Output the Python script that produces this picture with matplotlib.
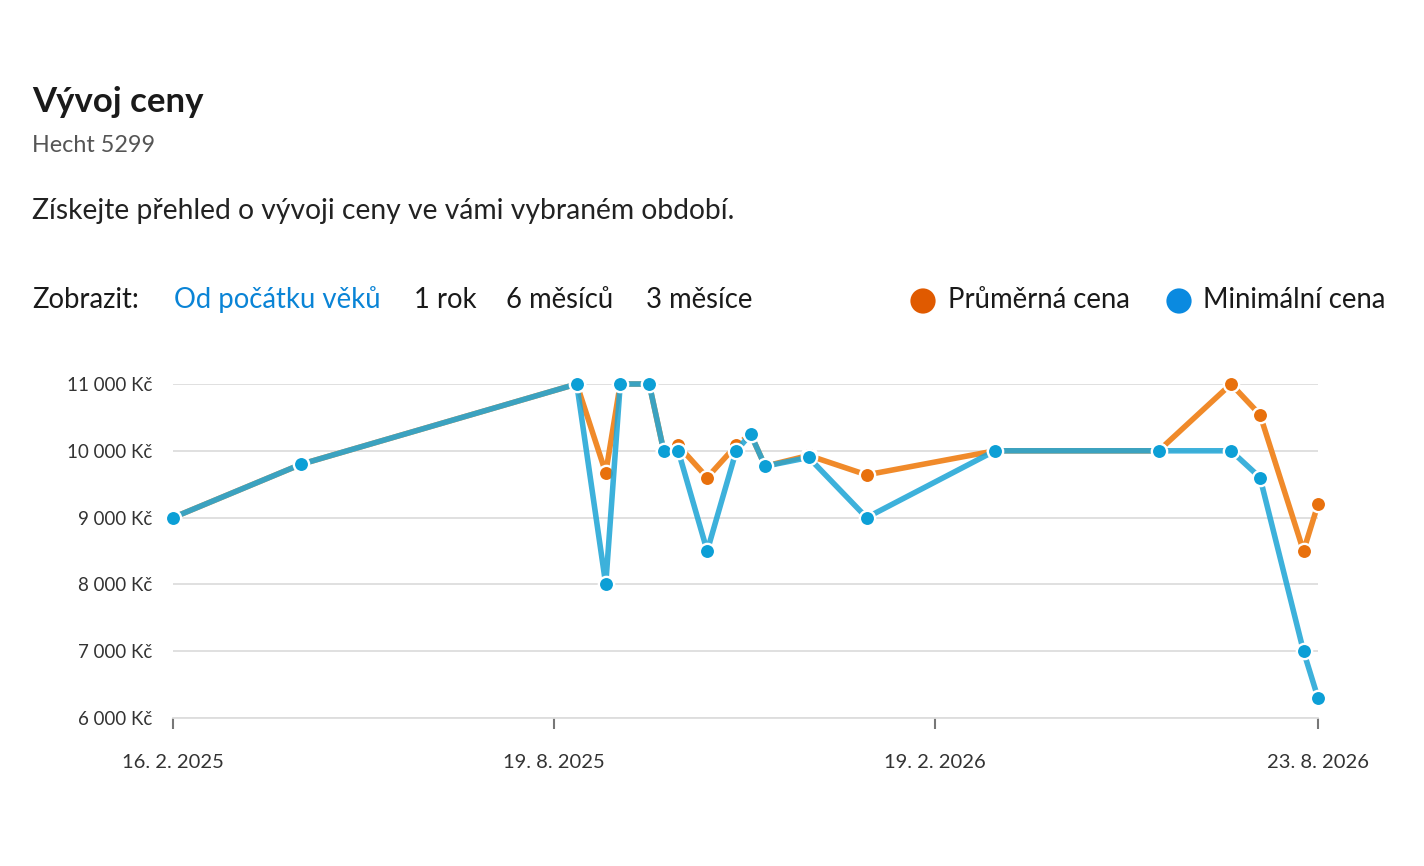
import matplotlib
matplotlib.use("Agg")
import matplotlib.pyplot as plt
import matplotlib.dates as mdates
from matplotlib.ticker import FixedLocator, FuncFormatter
import datetime as dt

plt.rcParams['font.family'] = ['Lato', 'DejaVu Sans']

dates = ["2025-02-16", "2025-04-19", "2025-08-30", "2025-09-13", "2025-09-20",
         "2025-10-04", "2025-10-11", "2025-10-18", "2025-11-01", "2025-11-15",
         "2025-11-22", "2025-11-29", "2025-12-20", "2026-01-17", "2026-03-20",
         "2026-06-07", "2026-07-12", "2026-07-26", "2026-08-16", "2026-08-23"]
avg_price = [9000, 9800, 11000, 9670, 11000, 11000, 10000, 10080, 9600, 10080,
             10250, 9770, 9930, 9640, 10000, 10000, 11000, 10540, 8500, 9200]
min_price = [9000, 9800, 11000, 8000, 11000, 11000, 10000, 10000, 8500, 10000,
             10250, 9770, 9900, 9000, 10000, 10000, 10000, 9600, 7000, 6300]
y_ticks = [6000, 7000, 8000, 9000, 10000, 11000]
x_tick_dates = ["2025-02-16", "2025-08-19", "2026-02-19", "2026-08-23"]
x_tick_labels = ["16. 2. 2025", "19. 8. 2025", "19. 2. 2026", "23. 8. 2026"]

x = [mdates.date2num(dt.date.fromisoformat(d)) for d in dates]
xt = [mdates.date2num(dt.date.fromisoformat(d)) for d in x_tick_dates]

W, H = 1424, 866
fig = plt.figure(figsize=(W / 100, H / 100), dpi=100)
fig.patch.set_facecolor("white")

ax = fig.add_axes([173 / W, 1 - 718 / H, (1318 - 173) / W, (718 - 384) / H])
ax.set_xlim(xt[0], xt[-1])
ax.set_ylim(6000, 11000)

ax.plot(x, avg_price, color="#f08a2a", lw=4.0, zorder=3, solid_capstyle="round",
        marker="o", ms=11, mfc="#e8700c", mec="white", mew=1.7, clip_on=False)
ax.plot(x, min_price, color="#22a6d6", lw=4.0, alpha=0.88, zorder=4, solid_capstyle="round",
        clip_on=False)
ax.plot(x, min_price, lw=0, zorder=5, marker="o", ms=11, mfc="#0c9fd6", mec="white",
        mew=1.7, clip_on=False)

ax.yaxis.set_major_locator(FixedLocator(y_ticks))
ax.yaxis.set_major_formatter(FuncFormatter(lambda v, p: f"{int(v):,}".replace(",", "\u2005") + " Kč"))
ax.grid(axis="y", color="#dddddd", lw=1.3, zorder=0)
ax.set_xticks(xt)
ax.set_xticklabels(x_tick_labels)
for s in ["top", "right", "left"]:
    ax.spines[s].set_visible(False)
ax.spines["bottom"].set_color("#dddddd")
ax.spines["bottom"].set_linewidth(1.3)
ax.tick_params(axis="y", length=0, pad=15, labelsize=13.5, labelcolor="#333333")
ax.tick_params(axis="x", length=8, width=1.5, color="#777777", pad=18, labelsize=14.5,
               labelcolor="#333333")

# header texts
fig.text(32 / W, 1 - 102 / H, "Vývoj ceny", fontsize=25, fontweight="bold",
         color="#1a1a1a", va="center", ha="left")
fig.text(32 / W, 1 - 146 / H, "Hecht 5299", fontsize=16.8, color="#555555",
         va="center", ha="left")
fig.text(32 / W, 1 - 211 / H, "Získejte přehled o vývoji ceny ve vámi vybraném období.",
         fontsize=20.3, color="#222222", va="center", ha="left")
row_y = 1 - 300 / H
fs = 19.8
fig.text(32 / W, row_y, "Zobrazit:", fontsize=fs, color="#1a1a1a", va="center", ha="left")
fig.text(174 / W, row_y, "Od počátku věků", fontsize=fs, color="#0a84d6", va="center", ha="left")
fig.text(414 / W, row_y, "1 rok", fontsize=fs, color="#1a1a1a", va="center", ha="left")
fig.text(506 / W, row_y, "6 měsíců", fontsize=fs, color="#1a1a1a", va="center", ha="left")
fig.text(646 / W, row_y, "3 měsíce", fontsize=fs, color="#1a1a1a", va="center", ha="left")
fig.text(948 / W, row_y, "Průměrná cena", fontsize=fs, color="#1a1a1a", va="center", ha="left")
fig.text(1203 / W, row_y, "Minimální cena", fontsize=fs, color="#1a1a1a", va="center", ha="left")
lax = fig.add_axes([0, 0, 1, 1], facecolor="none")
lax.set_xlim(0, W)
lax.set_ylim(H, 0)
lax.axis("off")
lax.scatter([923, 1179], [301, 301], s=330, c=["#e05a00", "#0a8ae0"], lw=0)

fig.savefig("out.png", dpi=100, facecolor="white")
